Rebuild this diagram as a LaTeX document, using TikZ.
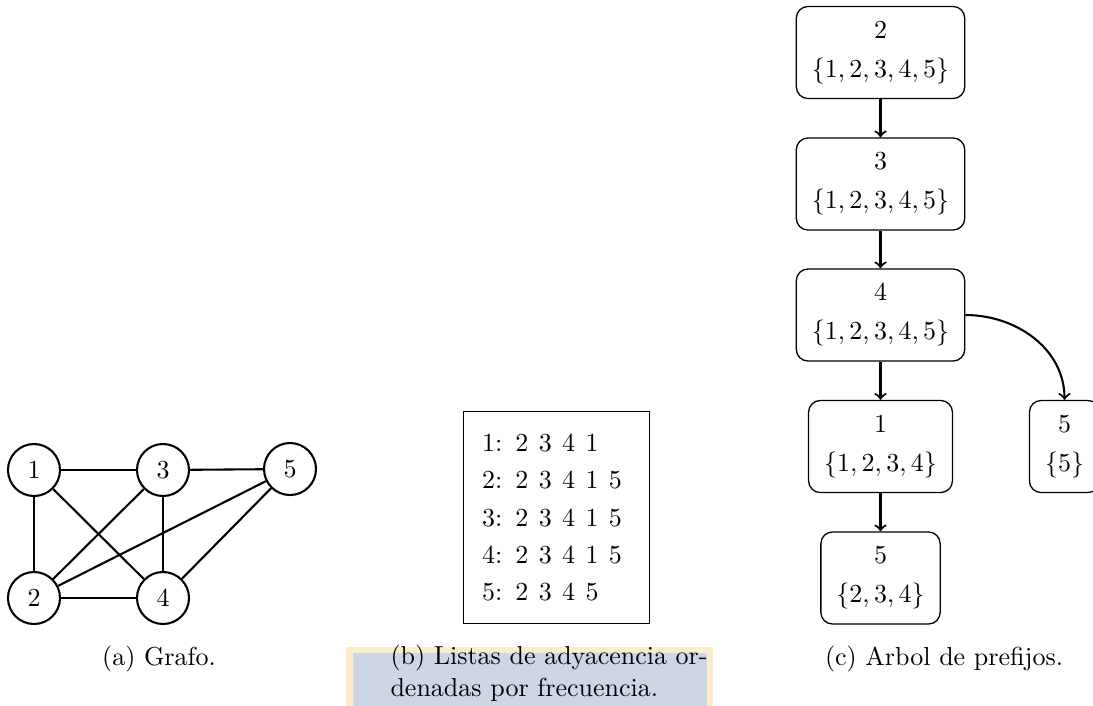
\documentclass[tikz,border=0pt]{standalone}
\usepackage{tikz}
\definecolor{bandyellow}{HTML}{FDECC9}
\definecolor{bandblue}{HTML}{CCD7E3}
\begin{document}
\begin{tikzpicture}[x=0.3846pt,y=-0.3846pt,
  vertex/.style={circle,draw,thick,minimum size=20pt,inner sep=0pt},
  edge/.style={thick},
  listbox/.style={draw,line width=0.4pt,inner xsep=7pt,text width=57.2pt,
    align=left,minimum height=81.2pt,font=\fontsize{10}{14.4}\selectfont,
    execute at begin node={\spaceskip=4pt\relax}},
  prefixbox/.style={draw,line width=0.5pt,rounded corners=4.5pt,inner xsep=6pt,
    minimum height=35.4pt,align=center,font=\fontsize{10}{12}\selectfont},
  arrow/.style={thick,->},
  caption/.style={anchor=base,inner sep=0pt,font=\fontsize{10}{12}\selectfont}]
\useasboundingbox (0,0) rectangle (1093,705);
\clip (0,0) rectangle (1093,705);

% background band behind the middle caption
\fill[bandyellow] (346,647) rectangle (713,706);
\fill[bandblue] (353,653) rectangle (707,706);

% (a) graph
\node[vertex] (g1) at (34,470) {1};
\node[vertex] (g3) at (163,470) {3};
\node[vertex] (g5) at (290,469) {5};
\node[vertex] (g2) at (34,598) {2};
\node[vertex] (g4) at (163,598) {4};
\draw[edge] (g1) -- (g3);
\draw[edge] (g3) -- (g5);
\draw[edge] (g1) -- (g2);
\draw[edge] (g1) -- (g4);
\draw[edge] (g2) -- (g3);
\draw[edge] (g3) -- (g4);
\draw[edge] (g2) -- (g5);
\draw[edge] (g4) -- (g5);
\draw[edge] (g2) -- (g4);
\node[caption] (capa) at (159,665) {(a) Grafo.};

% (b) adjacency lists
\node[listbox] (lists) at (556.5,517.5) {1: 2 3 4 1\\2: 2 3 4 1 5\\3: 2 3 4 1 5\\4: 2 3 4 1 5\\5: 2 3 4 5};
\node[anchor=base west,inner sep=0pt,align=left,font=\fontsize{10}{12}\selectfont] (capb) at (390,696)
  {(b) Listas de adyacencia or-\\denadas por frecuencia.};

% (c) prefix tree
\node[prefixbox] (t2) at (880.5,52.5) {$2$\\[3pt]$\{1,2,3,4,5\}$};
\node[prefixbox] (t3) at (880.5,184) {$3$\\[3pt]$\{1,2,3,4,5\}$};
\node[prefixbox] (t4) at (880.5,315) {$4$\\[3pt]$\{1,2,3,4,5\}$};
\node[prefixbox] (t1) at (880.5,446.5) {$1$\\[3pt]$\{1,2,3,4\}$};
\node[prefixbox] (t5) at (880.5,578) {$5$\\[3pt]$\{2,3,4\}$};
\node[prefixbox] (t5r) at (1064.5,446.5) {$5$\\[3pt]$\{5\}$};
\draw[arrow] (t2) -- (t3);
\draw[arrow] (t3) -- (t4);
\draw[arrow] (t4) -- (t1);
\draw[arrow] (t1) -- (t5);
\draw[arrow] (t4.east) to[out=0,in=90] (t5r.north);
\node[caption] (capc) at (944,665) {(c) Arbol de prefijos.};
\end{tikzpicture}
\end{document}
